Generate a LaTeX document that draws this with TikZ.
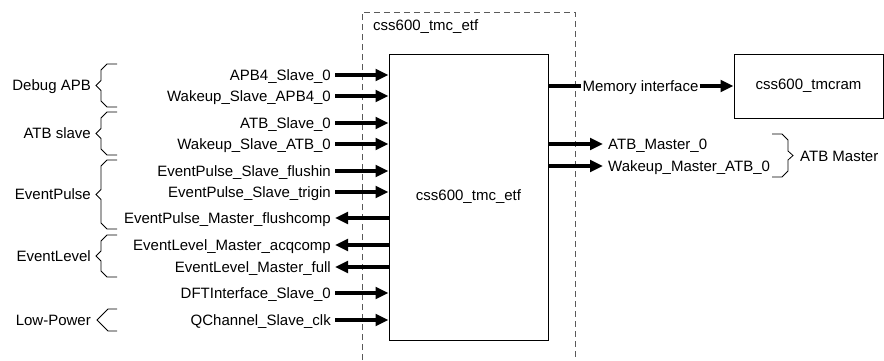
\documentclass[tikz,border=0pt]{standalone}
\usepackage{fontspec}
\setmainfont{Liberation Sans}
\usetikzlibrary{arrows.meta}
\tikzset{
  lab/.style={inner xsep=4pt, inner ysep=0pt, text height=10.7pt, text depth=0pt},
  grp/.style={inner xsep=2pt, inner ysep=0pt, text height=10.7pt, text depth=0pt},
  arr/.style={line width=3.2pt, -{Triangle[length=13pt,width=11.5pt]}},
  plain/.style={line width=3.2pt},
  brc/.style={line width=0.8pt},
  box/.style={draw, line width=1pt, inner sep=0pt},
  frame/.style={draw=black!65, line width=1pt, dash pattern=on 6pt off 4pt}
}
\newcommand\leftbrc[2]{%
  \pgfmathsetmacro\bm{(#1+#2)/2}%
  \draw[brc] (117,#1) -- (107,#1) -- (101,{#1+6}) -- (101,{\bm-5}) -- (96,\bm) -- (101,{\bm+5}) -- (101,{#2-6}) -- (107,#2) -- (117,#2);}
\begin{document}
\begin{tikzpicture}[x=1pt,y=-1pt,font=\fontsize{15}{17}\selectfont]
\useasboundingbox (0,0) rectangle (884,360);
% dashed frame
\draw[frame] (362,360) -- (362,12) -- (575,12) -- (575,360);
\node[anchor=west, grp] (title) at (371,25) {css600\_tmc\_etf};
% main block
\node[box, minimum width=159pt, minimum height=286pt] (etf) at (468.5,197) {css600\_tmc\_etf};
% RAM
\node[box, minimum width=149pt, minimum height=64pt] (ram) at (808.5,86) {css600\_tmcram};
% left inputs
\node[lab, anchor=east] (a1) at (335,75) {APB4\_Slave\_0};
\node[lab, anchor=east] (a2) at (335,96) {Wakeup\_Slave\_APB4\_0};
\node[lab, anchor=east] (a3) at (335,123) {ATB\_Slave\_0};
\node[lab, anchor=east] (a4) at (335,144) {Wakeup\_Slave\_ATB\_0};
\node[lab, anchor=east] (a5) at (335,171) {EventPulse\_Slave\_flushin};
\node[lab, anchor=east] (a6) at (335,192) {EventPulse\_Slave\_trigin};
\node[lab, anchor=east] (a7) at (335,218) {EventPulse\_Master\_flushcomp};
\node[lab, anchor=east] (a8) at (335,245) {EventLevel\_Master\_acqcomp};
\node[lab, anchor=east] (a9) at (335,267) {EventLevel\_Master\_full};
\node[lab, anchor=east] (a10) at (335,293) {DFTInterface\_Slave\_0};
\node[lab, anchor=east] (a11) at (335,320) {QChannel\_Slave\_clk};
\foreach \n in {a1,a2,a3,a4,a5,a6,a10,a11}
  \draw[arr] (\n.east) -- (\n.east -| etf.west);
\foreach \n in {a7,a8,a9}
  \draw[arr] (\n.east -| etf.west) -- (\n.east);
% right side
\node[grp, inner xsep=1pt] (mem) at (640.5,86) {Memory interface};
\draw[plain] (mem.west -| etf.east) -- (mem.west);
\draw[arr] (mem.east) -- (ram.west);
\node[lab, anchor=west, inner xsep=5pt] (b1) at (603,144) {ATB\_Master\_0};
\node[lab, anchor=west, inner xsep=5pt] (b2) at (603,166) {Wakeup\_Master\_ATB\_0};
\draw[arr] (b1.west -| etf.east) -- (b1.west);
\draw[arr] (b2.west -| etf.east) -- (b2.west);
\draw[brc] (772,134) -- (782,134) -- (788,140) -- (788,151) -- (793,155.5) -- (788,160) -- (788,171) -- (782,177) -- (772,177);
\node[grp, anchor=west] (gm) at (798,156) {ATB Master};
% left braces
\leftbrc{64}{107}
\leftbrc{112}{155}
\leftbrc{160}{229}
\leftbrc{235}{277}
\draw[brc] (117,309) -- (108,309) -- (97,320) -- (108,331) -- (117,331);
\node[grp, anchor=east] (g1) at (93,85.5) {Debug APB};
\node[grp, anchor=east] (g2) at (93,133.5) {ATB slave};
\node[grp, anchor=east] (g3) at (93,194.5) {EventPulse};
\node[grp, anchor=east] (g4) at (93,256) {EventLevel};
\node[grp, anchor=east] (g5) at (93,320) {Low-Power};
\end{tikzpicture}
\end{document}
